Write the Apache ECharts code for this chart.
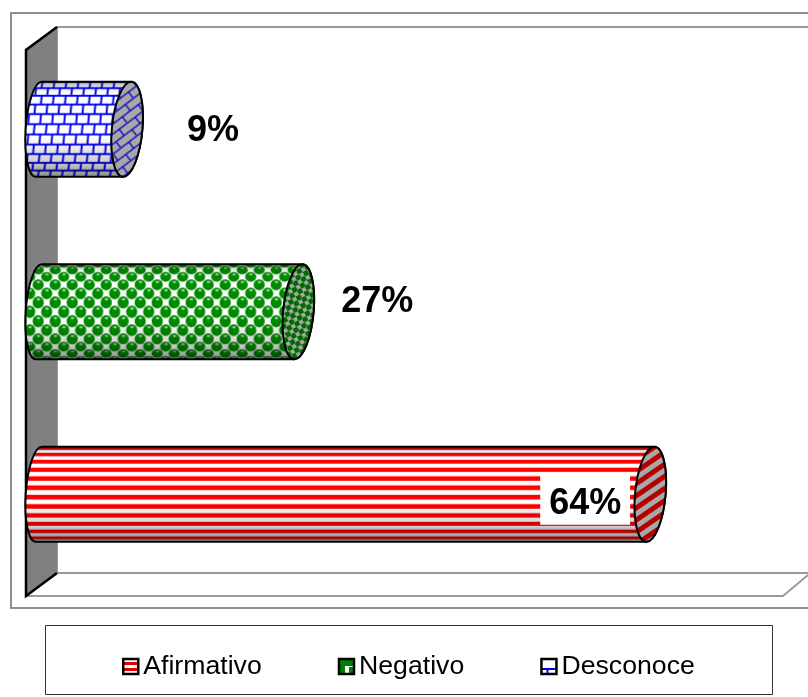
<!DOCTYPE html>
<html><head><meta charset="utf-8">
<style>html,body{margin:0;padding:0;background:#fff}#c{width:808px;height:697px}</style>
<script src="https://cdn.jsdelivr.net/npm/echarts@6/dist/echarts.min.js"></script>
</head><body><div id="c"></div>
<script>
const categories = ['Afirmativo', 'Negativo', 'Desconoce'];
const percentValues = [64, 27, 9];

const FONT = '"Liberation Sans", Arial, sans-serif';
const BODY_H = 95;

function mk(w, h) { const c = document.createElement('canvas'); c.width = w; c.height = h; return c; }
// rows bunch together toward the top and bottom, as on a curved surface
function wrapY(t, h) { const a = 1.0; return h / 2 * (1 + Math.sin((t - 0.5) * 2 * a) / Math.sin(a)); }

function stripeBody() {
  const w = 8, c = mk(w, BODY_H), g = c.getContext('2d'), n = 12;
  g.fillStyle = '#fff'; g.fillRect(0, 0, w, BODY_H); g.fillStyle = '#f00';
  for (let i = 0; i < n; i++) {
    const a = wrapY((i + 0.05) / n, BODY_H), b = wrapY((i + 0.55) / n, BODY_H);
    g.fillRect(0, a, w, b - a);
  }
  return c;
}
function stripeCap() {
  const c = mk(8, 10), g = c.getContext('2d');
  g.fillStyle = '#a8a8a8'; g.fillRect(0, 0, 8, 10);
  g.fillStyle = '#b40000'; g.fillRect(0, 0, 8, 5);
  return c;
}
function brickBody() {
  const w = 12, c = mk(w, BODY_H), g = c.getContext('2d'), n = 11;
  g.fillStyle = '#fff'; g.fillRect(0, 0, w, BODY_H);
  g.strokeStyle = '#0000f0'; g.lineWidth = 1.9;
  for (let i = 0; i < n; i++) {
    const a = wrapY(i / n, BODY_H), b = wrapY((i + 1) / n, BODY_H);
    g.beginPath(); g.moveTo(0, a); g.lineTo(w, a); g.stroke();
    const s = (0.5 - (i + 0.5) / n) * 4, off = (i % 2 ? 6 : 0);
    [-w, 0, w].forEach(k => {
      g.beginPath(); g.moveTo(off + k + 3 + s, a); g.lineTo(off + k + 3 + s - 1, b); g.stroke();
    });
  }
  return c;
}
function brickCap() {
  const c = mk(20, 16), g = c.getContext('2d');
  g.fillStyle = '#a8a8a8'; g.fillRect(0, 0, 20, 16);
  g.strokeStyle = '#0000c8'; g.lineWidth = 1.3;
  [0, 8].forEach((y, i) => {
    g.beginPath(); g.moveTo(0, y + 1); g.lineTo(20, y + 1); g.stroke();
    const x = i ? 15 : 5;
    g.beginPath(); g.moveTo(x, y + 1); g.lineTo(x, y + 9); g.stroke();
  });
  return c;
}
function dot(g, x, y, r, ry) {
  g.fillStyle = '#008a00';
  g.beginPath(); g.ellipse(x, y, r, ry, 0, 0, 7); g.fill();
  g.fillStyle = 'rgba(190,235,190,.9)';
  g.beginPath(); g.ellipse(x + 0.3, y - ry * 0.5, r * 0.32, ry * 0.18, 0, 0, 7); g.fill();
}
function dotBody() {
  const w = 17, c = mk(w, BODY_H), g = c.getContext('2d'), n = 12;
  g.fillStyle = '#fff'; g.fillRect(0, 0, w, BODY_H);
  for (let i = 0; i <= n; i++) {
    const a = wrapY(i / n, BODY_H), ry = Math.max(2.6, (wrapY((i + 0.5) / n, BODY_H) - wrapY((i - 0.5) / n, BODY_H)) * 0.66);
    const x = i % 2 ? 12.5 : 4;
    [-w, 0, w].forEach(k => dot(g, x + k, a, 5.6, ry));
  }
  return c;
}
function dotCap() {
  const c = mk(9, 9), g = c.getContext('2d');
  g.fillStyle = '#a8a8a8'; g.fillRect(0, 0, 9, 9);
  g.fillStyle = '#006a00';
  g.beginPath(); g.arc(2.2, 2.2, 3, 0, 7); g.fill();
  g.beginPath(); g.arc(6.8, 6.8, 3, 0, 7); g.fill();
  return c;
}
function icon(draw) { const c = mk(16, 16), g = c.getContext('2d'); g.fillStyle = '#fff'; g.fillRect(0, 0, 16, 16); draw(g); return c; }

const looks = {
  Afirmativo: { body: stripeBody(), cap: { image: stripeCap(), repeat: 'repeat', rotation: -0.6 },
    icon: icon(g => { g.fillStyle = '#e00000'; g.fillRect(0, 3, 16, 3); g.fillRect(0, 9, 16, 3); }), labelShift: [-65, 10] },
  Negativo: { body: dotBody(), cap: { image: dotCap(), repeat: 'repeat', rotation: -0.5 },
    icon: icon(g => { g.fillStyle = '#008000'; g.fillRect(0, 0, 16, 7); g.fillRect(0, 0, 6, 16); g.fillRect(10, 8, 6, 8); }), labelShift: [79, -10] },
  Desconoce: { body: brickBody(), cap: { image: brickCap(), repeat: 'repeat', rotation: -0.65 },
    icon: icon(g => { g.fillStyle = '#0000e6'; g.fillRect(0, 9, 16, 2); g.fillRect(5, 9, 2, 7); }), labelShift: [86, 2] }
};

const K = 0.5523, TILT = 4, LEFT_TILT = 3;
// half an ellipse leaning to the right at its top: dir = 1 right side (top to bottom), -1 left side (bottom to top)
function halfEllipse(ctx, cx, ry, rx, dir, tilt) {
  const px = (x, y) => x - ((y - ry) / ry) * tilt;
  const y0 = dir > 0 ? 0 : 2 * ry, sy = dir > 0 ? 1 : -1;
  const yA = y0, yB = y0 + sy * ry * (1 - K), yC = ry, yD = ry + sy * ry * K, yE = 2 * ry - y0;
  const e = cx + dir * rx, c = cx + dir * rx * K;
  ctx.bezierCurveTo(px(c, yA), yA, px(e, yB), yB, px(e, yC), yC);
  ctx.bezierCurveTo(px(e, yD), yD, px(c, yE), yE, px(cx, yE), yE);
}
echarts.graphic.registerShape('cylBody', echarts.graphic.extendShape({
  shape: { w: 0, h: 0, rx: 0, lx: 0 },
  buildPath(ctx, s) {
    const ry = s.h / 2, e = s.lx + s.w;
    ctx.moveTo(s.lx + LEFT_TILT, 0);
    ctx.lineTo(e + TILT, 0);
    halfEllipse(ctx, e, ry, s.rx, 1, TILT);
    ctx.lineTo(s.lx - LEFT_TILT, s.h);
    halfEllipse(ctx, s.lx, ry, s.lx, -1, LEFT_TILT);
    ctx.closePath();
  }
}));
echarts.graphic.registerShape('cylCap', echarts.graphic.extendShape({
  shape: { h: 0, rx: 0 },
  buildPath(ctx, s) {
    const ry = s.h / 2;
    ctx.moveTo(TILT, 0);
    halfEllipse(ctx, 0, ry, s.rx, 1, TILT);
    halfEllipse(ctx, 0, ry, s.rx, -1, TILT);
    ctx.closePath();
  }
}));

function renderCylinder(params, api) {
  const look = looks[params.seriesName];
  const value = api.value(0);
  const end = api.coord([value, api.value(1)]);
  const zero = api.coord([0, api.value(1)]);
  const h = api.size([0, 1])[1] * 0.52, rx = h / 6.2, lx = h / 7.3;
  const top = end[1] - h / 2, left = zero[0] - h / 6, w = end[0] - left - lx;
  const children = [
    { type: 'cylBody', x: left, y: top, shape: { w, h, rx, lx },
      style: { fill: { image: look.body, repeat: 'repeat' } } },
    { type: 'cylBody', x: left, y: top, shape: { w, h, rx, lx },
      style: { stroke: '#000', lineWidth: 2, fill: { type: 'linear', x: 0, y: 0, x2: 0, y2: 1, colorStops: [
        { offset: 0, color: 'rgba(0,0,0,.45)' }, { offset: 0.06, color: 'rgba(0,0,0,.1)' },
        { offset: 0.14, color: 'rgba(0,0,0,0)' }, { offset: 0.58, color: 'rgba(0,0,0,0)' },
        { offset: 0.82, color: 'rgba(0,0,0,.18)' }, { offset: 1, color: 'rgba(0,0,0,.46)' }] } } },
    { type: 'cylCap', x: end[0], y: top, shape: { h, rx },
      style: { fill: look.cap, stroke: '#000', lineWidth: 2 } }
  ];
  if (value > 50) {
    // a label that sits on its own bar gets a white plate behind it
    children.push({ type: 'rect', shape: { x: end[0] - h * 1.16, y: end[1] - h * 0.226, width: h * 0.947, height: h * 0.547 },
      style: { fill: '#fff' } });
  }
  children.push({ type: 'text', x: end[0] + look.labelShift[0], y: end[1] + look.labelShift[1],
    style: { text: value + '%', fontFamily: FONT, fontWeight: 'bold', fontSize: 36, fill: '#000',
      align: 'center', verticalAlign: 'middle' } });
  return { type: 'group', children };
}

const WALL = '#9a9a9a';
const line = (pts, stroke, lineWidth) => ({ type: 'polyline', z: 1, silent: true,
  shape: { points: pts }, style: { stroke, lineWidth, fill: null } });

const chart = echarts.init(document.getElementById('c'), null, { renderer: 'canvas' });
chart.setOption({
  animation: false,
  backgroundColor: '#fff',
  grid: { left: 41.5, top: 38, width: 761, height: 547.5 },
  xAxis: { type: 'value', min: 0, max: 80, show: false },
  yAxis: { type: 'category', data: categories, show: false },
  legend: {
    left: 117, top: 648, itemWidth: 15, itemHeight: 15, itemGap: 76, icon: 'rect',
    textStyle: { fontFamily: FONT, fontSize: 26.67, color: '#000' },
    data: categories.map(name => ({ name,
      itemStyle: { color: { image: looks[name].icon, repeat: 'repeat' }, borderColor: '#000', borderWidth: 2.5 } }))
  },
  graphic: { elements: [
    line([[811, 13], [11, 13], [11, 608], [811, 608]], '#8f8f8f', 2),
    line([[811, 27], [57, 27], [57, 573], [811, 573]], WALL, 2),
    line([[26, 596], [783, 596], [808, 575]], WALL, 2),
    { type: 'polygon', z: 1, silent: true, shape: { points: [[26, 50], [57, 27], [57, 573], [26, 596]] },
      style: { fill: '#808080', stroke: null } },
    line([[57, 27], [26, 50], [26, 596], [57, 573]], '#000', 2.5),
    { type: 'rect', z: 1, silent: true, shape: { x: 45.5, y: 625.5, width: 727, height: 69 },
      style: { fill: '#fff', stroke: '#333', lineWidth: 1 } }
  ] },
  series: categories.map((name, i) => ({
    name, type: 'custom', coordinateSystem: 'cartesian2d', clip: false, z: 3,
    encode: { x: 0, y: 1 },
    data: [[percentValues[i], i]],
    renderItem: renderCylinder
  }))
});
</script></body></html>
